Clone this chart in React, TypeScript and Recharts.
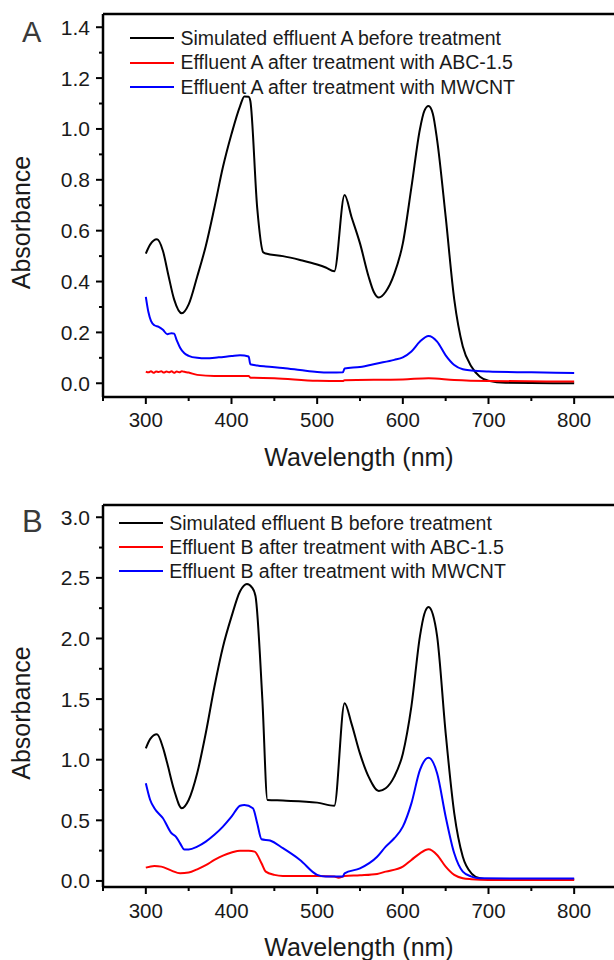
import React from 'react';
import { LineChart, Line, XAxis, YAxis, ReferenceLine, Legend } from 'recharts';

const FONT = '"Liberation Sans", Arial, Helvetica, sans-serif';

// ---------- Data (wavelength nm, absorbance) ----------
const A_BEFORE: [number, number][] = [
  [300, 0.51], [305, 0.545], [313, 0.566], [320, 0.52], [326, 0.43], [333, 0.33], [342, 0.275],
  [350, 0.31], [360, 0.42], [370, 0.54], [380, 0.69], [390, 0.85], [400, 0.98], [410, 1.09],
  [415, 1.128], [420, 1.127], [422, 1.11], [430, 0.69], [437, 0.515], [440, 0.51], [460, 0.5],
  [480, 0.485], [500, 0.467], [510, 0.455], [520, 0.44], [532, 0.74], [540, 0.655], [550, 0.55],
  [560, 0.42], [566, 0.36], [572, 0.337], [580, 0.36], [590, 0.43], [600, 0.55], [610, 0.77],
  [620, 1.0], [625, 1.07], [630, 1.09], [635, 1.06], [640, 0.957], [650, 0.655], [660, 0.33],
  [670, 0.145], [680, 0.066], [690, 0.026], [700, 0.01], [720, 0.002], [800, 0.0],
];
const A_ABC: [number, number][] = [
  [300, 0.046], [303, 0.043], [306, 0.047], [309, 0.041], [312, 0.046], [315, 0.044], [318, 0.047],
  [321, 0.042], [324, 0.046], [327, 0.043], [330, 0.047], [333, 0.041], [336, 0.046], [339, 0.043],
  [342, 0.047], [345, 0.045], [350, 0.042], [360, 0.033], [380, 0.029], [420, 0.029], [422, 0.022],
  [450, 0.02], [500, 0.01], [530, 0.009], [532, 0.012], [600, 0.015], [630, 0.02], [660, 0.013],
  [700, 0.009], [800, 0.007],
];
const A_MWCNT: [number, number][] = [
  [300, 0.34], [303, 0.28], [306, 0.245], [310, 0.228], [315, 0.222], [320, 0.21], [325, 0.193],
  [330, 0.197], [333, 0.195], [336, 0.17], [340, 0.14], [345, 0.118], [350, 0.108], [360, 0.1],
  [370, 0.098], [385, 0.102], [400, 0.107], [410, 0.11], [420, 0.105], [422, 0.075], [430, 0.07],
  [440, 0.066], [460, 0.06], [480, 0.052], [500, 0.044], [515, 0.042], [530, 0.043], [532, 0.058],
  [550, 0.064], [570, 0.078], [590, 0.092], [600, 0.102], [610, 0.125], [620, 0.164], [630, 0.186],
  [640, 0.164], [650, 0.11], [660, 0.072], [670, 0.055], [680, 0.05], [700, 0.046], [750, 0.043],
  [800, 0.04],
];

const B_BEFORE: [number, number][] = [
  [300, 1.094], [305, 1.17], [313, 1.21], [320, 1.1], [325, 0.97], [333, 0.75], [342, 0.6],
  [350, 0.668], [360, 0.89], [370, 1.22], [380, 1.6], [390, 1.93], [400, 2.18], [410, 2.39],
  [418, 2.45], [424, 2.42], [428, 2.35], [436, 1.5], [442, 0.668], [460, 0.663], [500, 0.646],
  [520, 0.62], [532, 1.466], [540, 1.3], [550, 1.05], [560, 0.86], [572, 0.742], [580, 0.764],
  [590, 0.86], [600, 1.05], [610, 1.44], [620, 2.02], [625, 2.2], [630, 2.26], [635, 2.2],
  [640, 2.02], [650, 1.22], [660, 0.56], [670, 0.2], [680, 0.063], [690, 0.022], [700, 0.014],
  [800, 0.014],
];
const B_ABC: [number, number][] = [
  [300, 0.11], [310, 0.124], [318, 0.118], [330, 0.085], [340, 0.063], [350, 0.069], [360, 0.096],
  [370, 0.13], [380, 0.173], [390, 0.209], [400, 0.234], [410, 0.25], [420, 0.25], [427, 0.242],
  [435, 0.146], [440, 0.077], [450, 0.05], [460, 0.041], [500, 0.041], [520, 0.036], [525, 0.027],
  [532, 0.041], [550, 0.047], [570, 0.058], [580, 0.077], [600, 0.118], [610, 0.173], [620, 0.228],
  [630, 0.261], [640, 0.214], [650, 0.118], [660, 0.05], [670, 0.022], [680, 0.014], [700, 0.008],
  [800, 0.008],
];
const B_MWCNT: [number, number][] = [
  [300, 0.806], [305, 0.67], [310, 0.6], [320, 0.517], [330, 0.393], [335, 0.366], [340, 0.31],
  [345, 0.26], [350, 0.26], [360, 0.283], [370, 0.324], [380, 0.38], [390, 0.448], [400, 0.53],
  [410, 0.62], [415, 0.627], [425, 0.6], [430, 0.476], [435, 0.344], [445, 0.333], [460, 0.27],
  [480, 0.173], [500, 0.05], [510, 0.036], [530, 0.036], [532, 0.063], [550, 0.104], [570, 0.2],
  [580, 0.283], [590, 0.352], [600, 0.448], [610, 0.64], [620, 0.916], [630, 1.017], [640, 0.888],
  [650, 0.53], [660, 0.228], [670, 0.077], [680, 0.036], [690, 0.022], [800, 0.02],
];

const NAMES_A = [
  'Simulated effluent A before treatment',
  'Effluent A after treatment with ABC-1.5',
  'Effluent A after treatment with MWCNT',
];
const NAMES_B = [
  'Simulated effluent B before treatment',
  'Effluent B after treatment with ABC-1.5',
  'Effluent B after treatment with MWCNT',
];
const COLORS = ['#000000', '#ff0000', '#0000ff'];

const X_TICKS = [250, 300, 350, 400, 450, 500, 550, 600, 650, 700, 750, 800];
const Y_TICKS_A = [0, 0.1, 0.2, 0.3, 0.4, 0.5, 0.6, 0.7, 0.8, 0.9, 1.0, 1.1, 1.2, 1.3, 1.4];
const Y_TICKS_B = [0, 0.25, 0.5, 0.75, 1.0, 1.25, 1.5, 1.75, 2.0, 2.25, 2.5, 2.75, 3.0];

const toPts = (arr: [number, number][]) => arr.map(([wl, a]) => ({ wl, a }));

const makeXTick = (labelOffset: number) => (props: any) => {
  const { x, y, payload } = props;
  const v = payload.value;
  const major = Math.round(v) % 100 === 0;
  return (
    <g>
      <line x1={x} x2={x} y1={y} y2={y + (major ? 7 : 4)} stroke="#000" strokeWidth={2} />
      {major && (
        <text x={x} y={y + labelOffset} textAnchor="middle" fontSize={20.5} fontFamily={FONT} fill="#1a1a1a">
          {v}
        </text>
      )}
    </g>
  );
};

const makeYTick = (isMajor: (v: number) => boolean) => (props: any) => {
  const { x, y, payload } = props;
  const v = payload.value;
  const major = isMajor(v);
  return (
    <g>
      <line x1={x - (major ? 7 : 4)} x2={x} y1={y} y2={y} stroke="#000" strokeWidth={2} />
      {major && (
        <text x={x - 13} y={y + 7.5} textAnchor="end" fontSize={21} fontFamily={FONT} fill="#1a1a1a">
          {v.toFixed(1)}
        </text>
      )}
    </g>
  );
};

const makeLegend = (rowH: number, names: string[]) => () => (
  <div style={{ fontFamily: FONT, fontSize: 19.5, color: '#1a1a1a' }}>
    {names.map((n, i) => (
      <div key={i} style={{ display: 'flex', alignItems: 'center', height: rowH, whiteSpace: 'nowrap' }}>
        <svg width={44} height={4} style={{ display: 'block', marginRight: 6.5 }}>
          <line x1={0} x2={44} y1={2} y2={2} stroke={COLORS[i]} strokeWidth={2} />
        </svg>
        <span>{n}</span>
      </div>
    ))}
  </div>
);

interface PanelProps {
  series: [number, number][][];
  names: string[];
  yDomain: [number, number];
  yTicks: number[];
  isMajor: (v: number) => boolean;
  top: number;
  xAxisH: number;
  legendLeft: number;
  legendTop: number;
  rowH: number;
  labelOffset: number;
}

const Panel = (p: PanelProps) => (
  <LineChart width={640} height={480} margin={{ top: p.top, right: 23, bottom: 0, left: 0 }}>
    <XAxis
      type="number"
      dataKey="wl"
      domain={[250, 850]}
      ticks={X_TICKS}
      allowDataOverflow
      height={p.xAxisH}
      tickSize={0}
      tickMargin={0}
      tickLine={false}
      axisLine={{ stroke: '#000', strokeWidth: 2.5 }}
      tick={makeXTick(p.labelOffset)}
      interval={0}
    />
    <YAxis
      type="number"
      domain={p.yDomain}
      ticks={p.yTicks}
      allowDataOverflow
      width={103}
      tickSize={0}
      tickMargin={0}
      tickLine={false}
      axisLine={{ stroke: '#000', strokeWidth: 2.5 }}
      tick={makeYTick(p.isMajor)}
      interval={0}
    />
    <ReferenceLine y={p.yDomain[1]} stroke="#000" strokeWidth={2.5} />
    <ReferenceLine x={850} stroke="#000" strokeWidth={2.5} />
    {p.series.map((s, i) => (
      <Line
        key={i}
        data={toPts(s)}
        dataKey="a"
        name={p.names[i]}
        type="monotone"
        stroke={COLORS[i]}
        strokeWidth={2}
        dot={false}
        activeDot={false}
        isAnimationActive={false}
      />
    ))}
    <Legend
      layout="horizontal"
      verticalAlign="middle"
      align="center"
      content={makeLegend(p.rowH, p.names)}
      wrapperStyle={{ position: 'absolute', top: p.legendTop, left: p.legendLeft, width: 420, height: 80 }}
    />
  </LineChart>
);

export default function App() {
  return (
    <div
      style={{
        position: 'absolute',
        left: 0,
        top: 0,
        width: 614,
        height: 960,
        overflow: 'hidden',
        background: '#fff',
      }}
    >
      <div style={{ position: 'absolute', left: 0, top: 0 }}>
        <Panel
          series={[A_BEFORE, A_ABC, A_MWCNT]}
          names={NAMES_A}
          yDomain={[-0.054, 1.452]}
          yTicks={Y_TICKS_A}
          isMajor={(v) => Math.round(v * 10) % 2 === 0}
          top={14}
          xAxisH={83}
          legendLeft={130}
          legendTop={25.75}
          rowH={24.5}
          labelOffset={29.5}
        />
      </div>
      <div style={{ position: 'absolute', left: 0, top: 480 }}>
        <Panel
          series={[B_BEFORE, B_ABC, B_MWCNT]}
          names={NAMES_B}
          yDomain={[-0.05, 3.101]}
          yTicks={Y_TICKS_B}
          isMajor={(v) => Math.abs(v * 2 - Math.round(v * 2)) < 1e-6}
          top={25}
          xAxisH={73}
          legendLeft={118.7}
          legendTop={31}
          rowH={24}
          labelOffset={30.5}
        />
      </div>
      <svg
        width={614}
        height={960}
        style={{ position: 'absolute', left: 0, top: 0, pointerEvents: 'none' }}
      >
        <g fontFamily={FONT}>
          <text x={22} y={42} fontSize={29} fill="#3a3a3a">A</text>
          <text x={22} y={532} fontSize={31} fill="#3a3a3a">B</text>
          <text x={359} y={466} fontSize={25} textAnchor="middle" fill="#1a1a1a">Wavelength (nm)</text>
          <text x={359} y={956} fontSize={25} textAnchor="middle" fill="#1a1a1a">Wavelength (nm)</text>
          <text x={29.5} y={222.5} fontSize={25} textAnchor="middle" fill="#1a1a1a" transform="rotate(-90 29.5 222.5)">Absorbance</text>
          <text x={29.5} y={713} fontSize={25} textAnchor="middle" fill="#1a1a1a" transform="rotate(-90 29.5 713)">Absorbance</text>
        </g>
      </svg>
    </div>
  );
}
